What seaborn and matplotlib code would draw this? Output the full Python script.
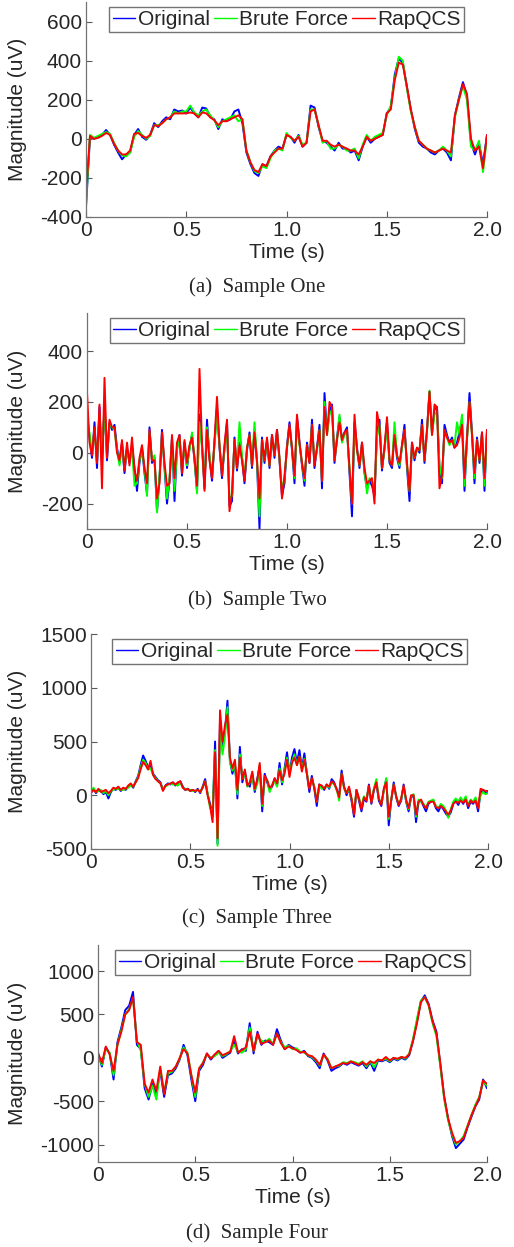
import numpy as np
import pandas as pd
import matplotlib
matplotlib.use('Agg')
import matplotlib.pyplot as plt
import seaborn as sns

SERIES = ['Original', 'Brute Force', 'RapQCS']
COLORS = {'Original': '#0000ff', 'Brute Force': '#00ff00', 'RapQCS': '#ff0000'}
CAPTIONS = ['(a)  Sample One', '(b)  Sample Two', '(c)  Sample Three', '(d)  Sample Four']

# ---- Sample One (0.02 s steps) ----
a_original = [
    -350, 10, 0, 10, 20, 45, 20, -30, -70, -105,
    -80, -70, 20, 50, 10, -5, 20, 80, 60, 90,
    110, 100, 150, 140, 145, 130, 160, 130, 110, 160,
    155, 110, 100, 50, 100, 90, 100, 140, 150, 80,
    -70, -130, -175, -190, -130, -140, -90, -60, -40, -50,
    20, 10, -20, 20, -40, -20, 170, 160, 60, -10,
    -20, -40, -60, -20, -50, -50, -70, -60, -110, -40,
    10, -20, 0, 10, 20, 130, 160, 330, 410, 390,
    270, 150, 50, -20, -40, -50, -70, -80, -60, -50,
    -70, -110, 120, 210, 290, 220, -20, -80, -20, -130,
    20]
a_brute = [
    -330, 20, 5, 15, 25, 35, 25, -20, -60, -85,
    -90, -70, 10, 40, 20, 0, 15, 70, 70, 80,
    100, 110, 140, 130, 140, 140, 170, 135, 120, 140,
    150, 120, 95, 60, 90, 100, 110, 120, 90, 100,
    -60, -120, -165, -175, -140, -150, -100, -60, -50, -60,
    30, 5, -10, 15, -30, -20, 150, 150, 70, -20,
    -10, -50, -50, -30, -40, -60, -60, -50, -100, -30,
    20, -10, 10, 20, 30, 120, 170, 310, 420, 400,
    260, 140, 60, -10, -30, -50, -60, -70, -60, -40,
    -60, -90, 110, 200, 270, 200, -40, -60, -10, -170,
    10]
a_rapqcs = [
    -280, 15, 0, 5, 15, 30, 20, -25, -60, -80,
    -80, -60, 25, 30, 15, 5, 20, 70, 65, 80,
    100, 110, 130, 130, 130, 130, 135, 130, 110, 135,
    130, 110, 95, 70, 90, 90, 100, 110, 120, 100,
    -60, -120, -160, -170, -130, -140, -90, -70, -50, -50,
    20, 10, -10, 10, -40, -20, 140, 150, 70, -10,
    -10, -30, -40, -30, -40, -50, -60, -60, -80, -40,
    10, -10, 0, 10, 20, 130, 150, 300, 390, 380,
    270, 150, 60, -10, -30, -50, -60, -70, -60, -50,
    -60, -70, 120, 200, 280, 230, 0, -60, -40, -150,
    20]

# ---- Sample Two (0.0125 s steps) ----
b_original = [
    150, 60, -20, 120, -60, 180, -40, 200, -30, 120,
    90, 110, 20, -40, 40, -80, 20, -40, 30, -60,
    -150, -40, 20, -80, -160, 100, -40, -20, -230, -100,
    90, -60, -200, -110, 60, -190, 20, 70, -90, 40,
    -60, 20, 70, -30, -150, 150, 30, -140, 130, -20,
    -110, 40, 180, 20, -100, 20, 120, -210, -190, 60,
    -70, 40, -20, -120, 10, 80, -60, 90, -40, -300,
    60, -40, 50, -60, 70, -20, 90, -30, -170, -120,
    30, 120, 10, -120, 140, 40, -50, -130, 40, -40,
    130, -60, 20, 110, -140, 235, 80, 160, 190, -40,
    60, 140, 50, 80, 100, -80, -250, 120, 20, -60,
    40, -80, -140, -110, -130, -170, 80, 130, -70, 20,
    120, -40, -60, 80, -20, -60, 30, 110, -60, -190,
    40, -30, 20, 0, 130, -40, 90, 240, 80, 170,
    180, -60, -120, 110, 70, 40, 60, 20, 40, 80,
    130, -150, 60, 235, 80, -120, 60, -40, 80, -150,
    90]
b_brute = [
    100, 80, 0, 90, -30, 150, -10, 170, 0, 110,
    100, 90, 10, -50, 30, -60, 10, -30, 20, -130,
    -120, -30, 10, -60, -170, 80, -30, -10, -235, -90,
    70, -50, -180, -100, 50, -150, 10, 60, -70, 30,
    -50, 10, 80, -20, -160, 120, 20, -120, 100, -10,
    -90, 30, 150, 30, -80, 10, 100, -180, -170, 50,
    -60, 120, -10, -100, 20, 70, -50, 120, -30, -250,
    50, -30, 40, -50, 60, -10, 80, -20, -150, -100,
    20, 100, 20, -100, 120, 30, -40, -110, 30, -30,
    110, -40, 10, 90, -110, 200, 70, 150, 170, -30,
    50, 150, 40, 70, 80, -60, -200, 100, 10, -50,
    30, -70, -160, -100, -110, -150, 60, 110, -60, 10,
    100, -30, -50, 120, -10, -50, 20, 90, -50, -150,
    30, -20, 10, 10, 110, -30, 80, 245, 70, 150,
    160, -50, -100, 90, 60, 30, 50, 30, 120, 70,
    150, -130, 50, 200, 70, -100, 50, -30, 70, -130,
    80]
b_rapqcs = [
    240, 40, -10, 100, -40, 190, -140, 295, -20, 130,
    100, 100, 0, -30, 50, -70, 40, -50, 60, -70,
    -110, -20, 30, -60, -120, 90, -30, -30, -180, -120,
    80, -40, -130, -120, 70, -100, 40, 70, -80, 50,
    -40, 30, 60, -20, -130, 330, 40, -150, 90, -30,
    -100, 50, 220, 30, -90, 30, 130, -230, -160, 50,
    -60, 30, -30, -110, 20, 70, -50, 80, -30, -180,
    50, -30, 60, -50, 70, -10, 90, -20, -180, -90,
    20, 110, 20, -90, 150, 40, -40, -100, 30, -40,
    110, -50, 20, 90, -110, 180, 70, 200, 180, -30,
    50, 120, 50, 80, 90, -60, -200, 150, 10, -50,
    40, -60, -120, -110, -100, -200, 160, 100, -60, 20,
    140, -30, -50, 70, -10, -40, 30, 90, -40, -150,
    40, -20, 20, 10, 110, -30, 90, 240, 70, 190,
    180, -140, -90, 90, 60, 40, 50, 20, 30, 60,
    110, -100, 60, 200, 70, -80, 50, -30, 80, -100,
    90]

# ---- Sample Three (0.0125 s steps) ----
c_original = [
    30, 60, 20, 50, 40, 10, 30, -30, 30, 60,
    50, 70, 40, 60, 50, 80, 100, 70, 130, 180,
    280, 370, 320, 260, 280, 200, 170, 140, 120, 50,
    90, 110, 100, 120, 90, 110, 130, 80, 50, 60,
    40, 50, 30, 60, 20, 80, 150, 10, -80, -200,
    500, -450, 700, 450, 600, 880, 320, 200, 300, -30,
    450, 120, 220, 100, 80, 200, 30, 150, 270, -150,
    200, 120, 50, 80, 150, 100, 300, 100, 250, 400,
    200, 350, 430, 300, 420, 250, 390, 200, 30, 180,
    60, -100, 100, 80, 50, 100, 60, 150, 120, 50,
    0, 230, 80, 0, 60, -50, -200, 50, -50, -150,
    -30, -60, 100, -80, 50, 120, -50, -100, 50, 150,
    -280, -50, 120, -20, -100, -50, 100, -60, -150, -20,
    0, -250, -60, -50, -100, -150, -80, -60, -50, -120,
    -150, -100, -130, -170, -200, -160, -80, -50, -90, -40,
    -80, -30, -120, -60, -80, -40, -150, 20, 50, 20,
    30]
c_brute = [
    40, 70, 30, 40, 50, 20, 40, 0, 40, 50,
    60, 60, 50, 50, 60, 70, 90, 80, 120, 170,
    260, 330, 300, 240, 250, 190, 160, 130, 110, 60,
    80, 100, 110, 100, 100, 90, 120, 70, 60, 50,
    50, 40, 40, 50, 30, 70, 130, 20, -120, -150,
    420, -470, 600, 380, 550, 820, 300, 230, 280, 10,
    380, 150, 200, 80, 120, 170, 50, 100, 280, -100,
    150, 140, 30, 100, 130, 80, 250, 120, 230, 350,
    220, 310, 380, 280, 360, 250, 340, 210, 70, 150,
    80, -60, 90, 60, 70, 90, 70, 120, 100, 60,
    -50, 200, 60, 20, 50, -30, -160, 40, -30, -100,
    -10, -40, 80, -60, 60, 150, -30, -80, 40, 160,
    -220, -40, 100, -10, -80, -40, 80, -50, -130, -10,
    10, -200, -40, -60, -80, -120, -60, -50, -40, -100,
    -120, -80, -100, -140, -210, -130, -60, -30, -60, -20,
    -60, -10, -90, -40, -60, -20, -110, 0, 30, 10,
    20]
c_rapqcs = [
    20, 50, 30, 60, 30, 40, 50, 20, 40, 70,
    60, 80, 50, 70, 60, 90, 110, 80, 120, 160,
    240, 310, 280, 240, 320, 190, 150, 130, 110, 40,
    90, 100, 110, 120, 100, 120, 130, 70, 50, 60,
    40, 50, 40, 50, 30, 70, 130, 0, -100, -250,
    400, -400, 790, 500, 650, 750, 350, 250, 330, 50,
    350, 150, 240, 90, 120, 220, 60, 140, 300, -80,
    180, 140, 70, 90, 160, 110, 230, 140, 200, 330,
    170, 300, 350, 280, 360, 220, 330, 200, 60, 160,
    70, -60, 100, 90, 60, 100, 80, 130, 110, 60,
    -20, 200, 70, 20, 80, -30, -180, 50, -30, -130,
    -20, -50, 90, -70, 50, 120, -30, -90, 60, 120,
    -200, -40, 100, -10, -90, -30, 90, -40, -120, 0,
    0, -180, -60, -40, -90, -120, -70, -60, -60, -110,
    -120, -100, -120, -150, -180, -140, -80, -60, -70, -50,
    -70, -40, -100, -50, -70, -50, -120, 60, 50, 40,
    40]

# ---- Sample Four (0.02 s steps) ----
d_original = [
    50, -100, 120, 50, -250, 180, 350, 550, 600, 760,
    150, 100, -350, -480, -300, -420, -150, -450, -200, -180,
    -120, -20, 150, 30, -250, -500, -150, -80, 50, -20,
    30, 80, 0, 30, 60, 200, 50, 100, 80, 400,
    50, 300, 150, 200, 180, 150, 330, 200, 100, 150,
    120, 100, 60, 80, 20, 0, -50, -120, 50, -30,
    -150, -120, -100, -60, -80, -50, -70, -90, -60, -120,
    -50, -150, -30, -40, -20, -50, -10, -30, 0, -20,
    30, 200, 420, 650, 720, 620, 430, 300, -80, -450,
    -700, -900, -1040, -990, -940, -800, -680, -560, -480, -250,
    -350]
d_brute = [
    30, -80, 100, 60, -200, 150, 320, 500, 560, 680,
    200, 80, -300, -450, -320, -480, -120, -400, -180, -160,
    -100, -10, 120, 60, -200, -450, -130, -50, 40, 0,
    20, 60, 20, 40, 80, 150, 70, 60, 100, 350,
    80, 250, 200, 180, 220, 160, 280, 180, 120, 140,
    100, 110, 70, 60, 30, 10, -30, -90, 30, -10,
    -120, -100, -90, -50, -60, -40, -50, -70, -40, -100,
    -40, -110, -20, -30, -10, -40, 0, -20, 10, -10,
    50, 220, 450, 660, 700, 600, 400, 250, -100, -480,
    -720, -880, -1000, -960, -900, -780, -660, -540, -450, -280,
    -320]
d_rapqcs = [
    60, -60, 130, 40, -150, 150, 300, 500, 550, 700,
    180, 150, -300, -400, -250, -380, -100, -420, -150, -150,
    -100, 0, 100, 50, -200, -400, -120, -60, 50, -10,
    40, 80, 30, 50, 70, 250, 60, 90, 120, 300,
    80, 280, 160, 180, 200, 150, 280, 170, 100, 130,
    110, 90, 60, 70, 30, 20, -20, -80, 40, -20,
    -120, -100, -80, -60, -70, -40, -60, -80, -50, -80,
    -40, -60, -20, -30, 10, -30, 0, -10, 10, 0,
    40, 200, 400, 640, 700, 610, 420, 280, -60, -450,
    -700, -860, -980, -960, -920, -790, -660, -560, -460, -260,
    -300]

PANELS = [
    (a_original, a_brute, a_rapqcs),
    (b_original, b_brute, b_rapqcs),
    (c_original, c_brute, c_rapqcs),
    (d_original, d_brute, d_rapqcs),
]
YLIMS = [(-400, 700), (-300, 550), (-500, 1500), (-1200, 1300)]
YTICKS = [[-400, -200, 0, 200, 400, 600], [-200, 0, 200, 400],
          [-500, 0, 500, 1000, 1500], [-1000, -500, 0, 500, 1000]]

# axes boxes in pixels (left, right, top, bottom) and caption rows
W, H = 514, 1247
BOXES = [(86, 487, 2, 217), (87, 487, 313, 529), (91, 488, 634, 849), (98, 487, 945, 1162)]
CAPTION_Y = [287, 600, 918, 1233]
YLABEL_X = 27


def long_frame(series_values):
    frames = []
    for name, vals in zip(SERIES, series_values):
        t = np.linspace(0, 2, len(vals))
        frames.append(pd.DataFrame({'time': t, 'value': vals, 'series': name}))
    return pd.concat(frames, ignore_index=True)


def main():
    sns.set_style('ticks')
    plt.rcParams['font.family'] = ['Liberation Sans', 'DejaVu Sans']
    plt.rcParams['axes.unicode_minus'] = False

    fig = plt.figure(figsize=(W / 100, H / 100), dpi=100)

    for i, series_values in enumerate(PANELS):
        left, right, top, bottom = BOXES[i]
        ax = fig.add_axes([left / W, 1 - bottom / H, (right - left) / W, (bottom - top) / H])
        df = long_frame(series_values)
        sns.lineplot(data=df, x='time', y='value', hue='series', hue_order=SERIES,
                     palette=COLORS, estimator=None, sort=False, linewidth=1.4,
                     legend=False, ax=ax)

        ax.set_xlim(0, 2)
        ax.set_ylim(*YLIMS[i])
        ax.set_xticks([0, 0.5, 1.0, 1.5, 2.0])
        ax.set_xticklabels(['0', '0.5', '1.0', '1.5', '2.0'])
        ax.set_yticks(YTICKS[i])
        ax.tick_params(direction='in', length=4, width=0.8, labelsize=15, pad=3,
                       color='0.35')
        for side in ('top', 'right'):
            ax.spines[side].set_visible(False)
        for side in ('left', 'bottom'):
            ax.spines[side].set_color('0.45')
            ax.spines[side].set_linewidth(0.9)

        ax.set_xlabel('Time (s)', fontsize=15, labelpad=2)
        ax.set_ylabel('Magnitude (uV)', fontsize=15)
        ax.yaxis.set_label_coords((YLABEL_X - left) / (right - left), 0.5)

        leg = ax.legend(ax.lines[:3], SERIES, loc='upper center', bbox_to_anchor=(0.5, 1.0),
                        ncol=3, fontsize=15, handlelength=1.1, handletextpad=0.1,
                        columnspacing=0.2, borderpad=0.15, borderaxespad=0.25,
                        frameon=True, fancybox=False, edgecolor='0.45', framealpha=1)
        for line in leg.get_lines():
            line.set_linewidth(1.0)

        fig.text(0.5, 1 - CAPTION_Y[i] / H, CAPTIONS[i], ha='center', va='center',
                 fontsize=15, family='Liberation Serif')

    fig.savefig('out.png', dpi=100)
    plt.close(fig)


if __name__ == '__main__':
    main()
